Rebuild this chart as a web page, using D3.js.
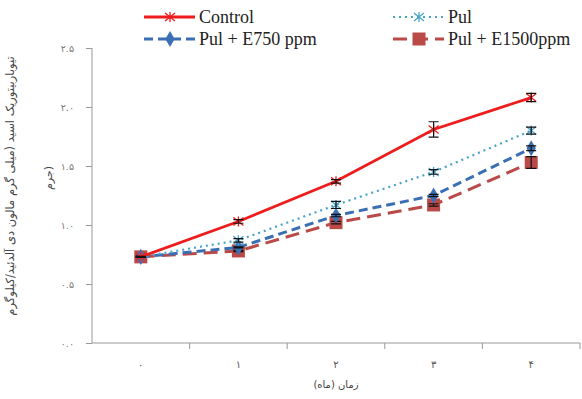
<!DOCTYPE html>
<html><head><meta charset="utf-8">
<script src="https://cdn.jsdelivr.net/npm/d3@7"></script>
<style>body{margin:0;background:#fff}svg{display:block}.lg{font-family:"Liberation Serif","DejaVu Serif",serif}</style>
</head><body><svg id="c" width="582" height="399"></svg>
<script>
const categories = ["۰","۱","۲","۳","۴"];
const yTicks = [0,0.5,1,1.5,2,2.5];
const yTickLabels = ["۰.۰","۰.۵","۱.۰","۱.۵","۲.۰","۲.۵"];
const control = [0.73,1.03,1.37,1.81,2.08];
const controlErr = [0.005,0.015,0.015,0.065,0.035];
const pul = [0.73,0.87,1.17,1.45,1.80];
const pulErr = [0.005,0.015,0.03,0.02,0.03];
const e750 = [0.73,0.81,1.08,1.25,1.65];
const e750Err = [0.005,0.005,0.01,0.01,0.02];
const e1500 = [0.73,0.78,1.02,1.17,1.53];
const e1500Err = [0.005,0.005,0.01,0.01,0.05];
const seriesNames = ["Control","Pul","Pul + E750 ppm","Pul + E1500ppm"];

const svg = d3.select("#c");
const x = d3.scaleBand().domain(categories).range([92,580]);
const y = d3.scaleLinear().domain([0,2.5]).range([343,48]);
const cx = d => x(d)+x.bandwidth()/2;

const yAx = svg.append("g").attr("transform","translate(92,0)")
  .call(d3.axisLeft(y).tickValues(yTicks).tickSize(6).tickFormat((d,i)=>yTickLabels[i]));
yAx.select(".domain").attr("stroke","#999").attr("d","M0,48V343");
yAx.selectAll(".tick line").attr("stroke","#999");
yAx.selectAll("text").attr("font-family","DejaVu Sans").attr("font-size",9.5).attr("fill","#777").attr("x",-18);

const xAx = svg.append("g").attr("transform","translate(0,343)")
  .call(d3.axisBottom(x).tickSize(0).tickFormat(d=>d));
xAx.select(".domain").attr("stroke","#999").attr("d","M92,0H580");
xAx.selectAll("text").attr("font-family","DejaVu Sans").attr("font-size",10).attr("fill","#555").attr("dy",22);
svg.append("g").selectAll("line").data(categories).join("line")
  .attr("x1",d=>x(d)+x.bandwidth()).attr("x2",d=>x(d)+x.bandwidth())
  .attr("y1",343).attr("y2",349).attr("stroke","#999");

const series = [
  {name:seriesNames[0],v:control,e:controlErr,color:"#ee1c1c",dash:null,w:2.8,marker:"star"},
  {name:seriesNames[1],v:pul,e:pulErr,color:"#4aa3c8",dash:"2,4",w:2.2,marker:"star"},
  {name:seriesNames[2],v:e750,e:e750Err,color:"#3b6fb4",dash:"9,5",w:3,marker:"diamond"},
  {name:seriesNames[3],v:e1500,e:e1500Err,color:"#b94a48",dash:"14,7",w:3,marker:"square"}
];

const line = d3.line().x((d,i)=>cx(categories[i])).y(d=>y(d));

function drawMarker(g,type,color,px,py){
  if(type==="square"){
    g.append("rect").attr("x",px-6.5).attr("y",py-6.5).attr("width",13).attr("height",13).attr("fill",color);
  } else if(type==="diamond"){
    g.append("path").attr("d",d3.symbol(d3.symbolDiamond,75)()).attr("transform",`translate(${px},${py})`).attr("fill",color);
  } else {
    g.append("path").attr("d",`M${px-5},${py-4}L${px+5},${py+4}M${px-5},${py+4}L${px+5},${py-4}M${px},${py-5}V${py+5}`)
      .attr("stroke",color).attr("stroke-width",1.3).attr("fill","none");
  }
}

[3,2,1,0].forEach(si=>{
  const s = series[si];
  const g = svg.append("g");
  g.append("path").datum(s.v).attr("d",line).attr("fill","none")
    .attr("stroke",s.color).attr("stroke-width",s.w).attr("stroke-dasharray",s.dash);
  s.v.forEach((v,i)=>{
    const px = cx(categories[i]);
    drawMarker(g,s.marker,s.color,px,y(v));
    const t = y(v+s.e[i]), b = y(v-s.e[i]);
    g.append("path").attr("d",`M${px},${t}V${b}M${px-5},${t}H${px+5}M${px-5},${b}H${px+5}`)
      .attr("stroke","#111").attr("stroke-width",1.2).attr("fill","none");
  });
});

const leg = [
  {s:series[0],x:144,y:17},{s:series[1],x:393,y:17},
  {s:series[2],x:144,y:39},{s:series[3],x:393,y:39}
];
leg.forEach(l=>{
  const g = svg.append("g");
  g.append("line").attr("x1",l.x).attr("x2",l.x+51).attr("y1",l.y).attr("y2",l.y)
    .attr("stroke",l.s.color).attr("stroke-width",l.s.w).attr("stroke-dasharray",l.s.dash);
  drawMarker(g,l.s.marker,l.s.color,l.x+26,l.y);
  g.append("text").attr("class","lg").attr("x",l.x+55).attr("y",l.y+6).text(l.s.name)
    .attr("font-size",18).attr("fill","#222");
});

svg.append("text").attr("transform","translate(14,186) rotate(-90)").attr("text-anchor","middle")
  .attr("font-family","DejaVu Sans").attr("font-size",11.5).attr("fill","#444")
  .text("تیوباربیتوریک اسید (میلی گرم مالون دی آلدئید/کیلوگرم");
svg.append("text").attr("transform","translate(52,178) rotate(-90)").attr("text-anchor","middle")
  .attr("font-family","DejaVu Sans").attr("font-size",11).attr("fill","#444").text("جرم)");
svg.append("text").attr("x",336).attr("y",388).attr("text-anchor","middle")
  .attr("font-family","DejaVu Sans").attr("font-size",10).attr("fill","#444").text("زمان (ماه)");
</script></body></html>
